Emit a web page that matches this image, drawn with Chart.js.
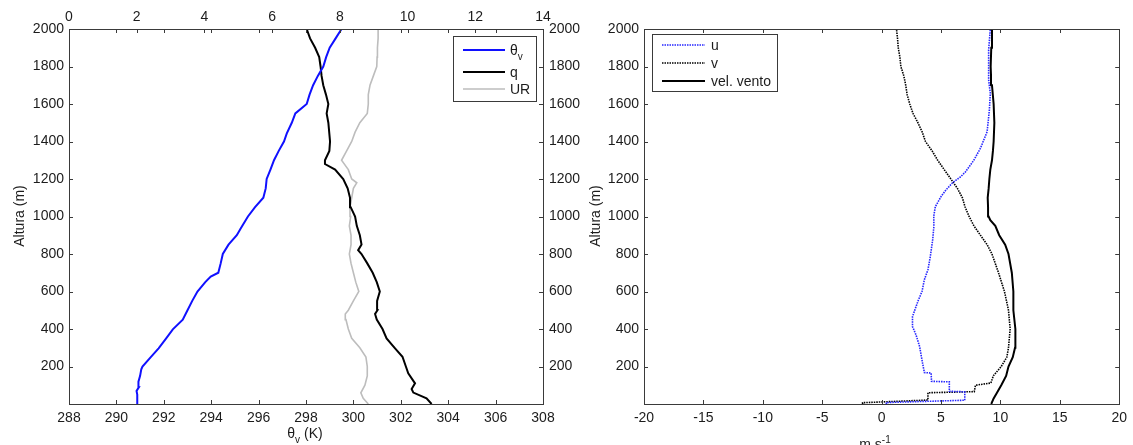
<!DOCTYPE html>
<html>
<head>
<meta charset="utf-8">
<script src="https://cdn.jsdelivr.net/npm/chart.js@4.4.1/dist/chart.umd.min.js"></script>
<style>
  html, body { margin: 0; padding: 0; background: #fff; }
  #wrap { position: relative; width: 1133px; height: 445px; overflow: hidden; }
  canvas { position: absolute; top: 0; }
  #cL { left: 0; }
  #cR { left: 575px; }
</style>
</head>
<body>
<div id="wrap">
  <canvas id="cL" width="600" height="445"></canvas>
  <canvas id="cR" width="558" height="445"></canvas>
</div>
<script>
// ---- Perfil termodinâmico (painel esquerdo) ----
const altThetaV = [0, 50, 70, 90, 119, 150, 185, 200, 250, 297, 350, 398, 450, 500, 550, 600, 650, 680, 700, 750, 800, 850, 900, 937, 1000, 1050, 1100, 1150, 1200, 1250, 1300, 1350, 1400, 1443, 1500, 1550, 1600, 1650, 1700, 1750, 1800, 1850, 1900, 1950, 2000];
const thetaV    = [290.91, 290.88, 290.85, 290.95, 290.93, 291.0, 291.05, 291.1, 291.45, 291.78, 292.1, 292.38, 292.8, 293.0, 293.2, 293.42, 293.75, 293.98, 294.3, 294.4, 294.49, 294.73, 295.08, 295.25, 295.55, 295.85, 296.2, 296.3, 296.34, 296.5, 296.65, 296.85, 297.07, 297.19, 297.4, 297.55, 298.03, 298.15, 298.3, 298.5, 298.73, 298.85, 299.0, 299.25, 299.5];

const altQ = [0, 30, 61, 80, 110, 164, 200, 252, 297, 350, 400, 450, 480, 500, 550, 600, 650, 700, 750, 800, 820, 850, 900, 950, 1000, 1050, 1100, 1150, 1200, 1250, 1280, 1300, 1350, 1400, 1500, 1550, 1600, 1650, 1700, 1750, 1800, 1850, 1900, 1950, 2000];
const q    = [10.71, 10.56, 10.17, 10.12, 10.22, 10.02, 9.95, 9.85, 9.63, 9.38, 9.26, 9.09, 9.04, 9.11, 9.1, 9.18, 9.09, 8.97, 8.81, 8.64, 8.54, 8.64, 8.59, 8.5, 8.45, 8.32, 8.3, 8.23, 8.1, 7.86, 7.56, 7.56, 7.69, 7.71, 7.66, 7.61, 7.66, 7.59, 7.51, 7.46, 7.43, 7.39, 7.27, 7.12, 7.02];

const altUR = [0, 30, 60, 100, 150, 200, 250, 300, 350, 400, 450, 480, 500, 550, 600, 650, 700, 750, 800, 850, 900, 950, 1000, 1050, 1100, 1150, 1180, 1200, 1250, 1300, 1350, 1400, 1450, 1500, 1550, 1600, 1650, 1700, 1750, 1800, 1850, 1900, 1950, 2000];
const ur    = [8.84, 8.69, 8.62, 8.74, 8.81, 8.81, 8.77, 8.59, 8.35, 8.25, 8.18, 8.16, 8.25, 8.4, 8.56, 8.47, 8.4, 8.33, 8.28, 8.33, 8.33, 8.28, 8.32, 8.3, 8.35, 8.4, 8.5, 8.35, 8.25, 8.05, 8.2, 8.35, 8.45, 8.59, 8.81, 8.84, 8.84, 8.89, 8.99, 9.09, 9.1, 9.11, 9.13, 9.13];

// ---- Perfil de vento (painel direito) ----
const altU = [0, 8, 20, 65, 68, 118, 121, 165, 168, 200, 235, 306, 368, 413, 466, 502, 555, 600, 663, 716, 787, 876, 947, 1002, 1052, 1106, 1141, 1180, 1212, 1239, 1301, 1364, 1408, 1452, 1500, 1568, 1657, 1728, 1800, 1888, 2000];
const u    = [0.4, 0.4, 7.0, 7.0, 5.7, 5.7, 4.2, 4.17, 3.6, 3.5, 3.4, 3.2, 2.9, 2.6, 2.6, 2.8, 3.1, 3.4, 3.6, 3.9, 4.1, 4.3, 4.4, 4.39, 4.52, 5.0, 5.41, 5.97, 6.66, 7.07, 7.77, 8.32, 8.6, 8.88, 8.96, 9.07, 9.15, 9.01, 9.01, 9.01, 9.15];

const altV = [0, 7, 21, 60, 66, 100, 112, 150, 200, 250, 300, 400, 500, 600, 700, 800, 850, 900, 950, 1002, 1052, 1100, 1150, 1200, 1250, 1300, 1350, 1400, 1450, 1500, 1550, 1600, 1650, 1700, 1750, 1800, 1850, 1900, 1950, 2000];
const v    = [-1.6, -1.6, 3.9, 3.9, 7.8, 7.9, 9.2, 9.4, 10.07, 10.54, 10.68, 10.82, 10.68, 10.34, 9.84, 9.29, 8.88, 8.32, 7.77, 7.35, 7.02, 6.8, 6.38, 5.83, 5.27, 4.72, 4.25, 3.69, 3.42, 3.06, 2.64, 2.37, 2.15, 2.03, 1.87, 1.62, 1.54, 1.4, 1.34, 1.25];

const altVel = [0, 30, 60, 100, 150, 200, 250, 300, 350, 400, 500, 600, 700, 800, 850, 900, 950, 980, 1000, 1050, 1100, 1150, 1200, 1250, 1300, 1350, 1400, 1500, 1600, 1700, 1750, 1800, 1900, 2000];
const vel    = [9.23, 9.43, 9.71, 10.07, 10.48, 10.68, 11.04, 11.23, 11.29, 11.23, 11.09, 11.09, 10.96, 10.68, 10.4, 9.9, 9.57, 9.15, 9.01, 8.96, 8.93, 9.01, 9.07, 9.15, 9.29, 9.37, 9.43, 9.49, 9.43, 9.29, 9.21, 9.18, 9.23, 9.29];

// ---- Eixos ----
const altRange = [0, 2000];      // altura (m)
const altStep = 200;
const thetaRange = [288, 308];   // θv (K)
const thetaStep = 2;
const qRange = [0, 14];          // q
const qStep = 2;
const windRange = [-20, 20];     // m.s-1
const windStep = 5;

const FONT = '"Liberation Sans", Arial, Helvetica, sans-serif';
const INK = '#1c1c1c';
const AXIS = '#3a3a3a';

Chart.defaults.font.family = FONT;
Chart.defaults.font.size = 14;
Chart.defaults.color = INK;

function profile(vals, alts) {
  return vals.map((x, i) => ({ x: x, y: alts[i] }));
}

// texto com _{sub} e ^{sup}
function richParts(str) {
  const parts = [];
  const re = /([_^])\{([^}]*)\}/g;
  let last = 0, m;
  while ((m = re.exec(str))) {
    if (m.index > last) parts.push({ t: str.slice(last, m.index), k: '' });
    parts.push({ t: m[2], k: m[1] });
    last = re.lastIndex;
  }
  if (last < str.length) parts.push({ t: str.slice(last), k: '' });
  return parts;
}
function drawRich(ctx, str, x, y, align) {
  const parts = richParts(str);
  let w = 0;
  parts.forEach(p => {
    ctx.font = (p.k ? '10px ' : '14px ') + FONT;
    p.w = ctx.measureText(p.t).width;
    w += p.w;
  });
  let cx = align === 'center' ? x - w / 2 : x;
  ctx.textAlign = 'left';
  ctx.textBaseline = 'alphabetic';
  parts.forEach(p => {
    ctx.font = (p.k ? '10px ' : '14px ') + FONT;
    const dy = p.k === '_' ? 5 : (p.k === '^' ? -6 : 0);
    ctx.fillText(p.t, cx, y + dy);
    cx += p.w;
  });
}

// caixa dos eixos + marcas internas
const boxTicks = {
  id: 'boxTicks',
  afterDatasetsDraw(chart, args, opts) {
    const { ctx, chartArea: a } = chart;
    const L = opts.len || 5;
    ctx.save();
    ctx.strokeStyle = AXIS;
    ctx.lineWidth = 1;
    ctx.beginPath();
    (opts.marks || []).forEach(mk => {
      const sc = chart.scales[mk.scale];
      sc.ticks.forEach(t => {
        const p = Math.round(sc.getPixelForValue(t.value)) + 0.5;
        mk.sides.forEach(side => {
          if (side === 'bottom') { ctx.moveTo(p, a.bottom); ctx.lineTo(p, a.bottom - L); }
          if (side === 'top') { ctx.moveTo(p, a.top); ctx.lineTo(p, a.top + L); }
          if (side === 'left') { ctx.moveTo(a.left, p); ctx.lineTo(a.left + L, p); }
          if (side === 'right') { ctx.moveTo(a.right, p); ctx.lineTo(a.right - L, p); }
        });
      });
    });
    ctx.stroke();
    ctx.strokeRect(Math.round(a.left) + 0.5, Math.round(a.top) + 0.5,
                   Math.round(a.right - a.left), Math.round(a.bottom - a.top));
    ctx.restore();
  }
};

// legenda em caixa
const boxLegend = {
  id: 'boxLegend',
  afterDraw(chart, args, o) {
    if (!o || !o.box) return;
    const { ctx } = chart;
    ctx.save();
    ctx.fillStyle = '#fff';
    ctx.fillRect(o.box[0], o.box[1], o.box[2], o.box[3]);
    ctx.strokeStyle = AXIS;
    ctx.lineWidth = 1;
    ctx.strokeRect(o.box[0] + 0.5, o.box[1] + 0.5, o.box[2], o.box[3]);
    chart.data.datasets.forEach((ds, i) => {
      const y = o.rows[i];
      ctx.strokeStyle = ds.borderColor;
      ctx.lineWidth = ds.borderWidth;
      ctx.setLineDash(ds.borderDash || []);
      ctx.beginPath();
      ctx.moveTo(o.line[0], y);
      ctx.lineTo(o.line[1], y);
      ctx.stroke();
      ctx.setLineDash([]);
      ctx.fillStyle = INK;
      drawRich(ctx, ds.label, o.textX, y + 5, 'left');
    });
    ctx.restore();
  }
};

// títulos dos eixos
const axisText = {
  id: 'axisText',
  afterDraw(chart, args, o) {
    const { ctx } = chart;
    ctx.save();
    ctx.fillStyle = INK;
    (o.items || []).forEach(it => {
      if (it.rotate) {
        ctx.translate(it.x, it.y);
        ctx.rotate(-Math.PI / 2);
        ctx.font = '14px ' + FONT;
        ctx.textAlign = 'center';
        ctx.textBaseline = 'middle';
        ctx.fillText(it.text, 0, 0);
        ctx.setTransform(1, 0, 0, 1, 0, 0);
      } else {
        drawRich(ctx, it.text, it.x, it.y, it.align || 'center');
      }
    });
    ctx.restore();
  }
};

function fixed(w, h) {
  return (sc) => { if (w != null) sc.width = w; if (h != null) sc.height = h; };
}
function plainScale(extra) {
  return Object.assign({
    type: 'linear',
    grid: { display: false, drawTicks: false },
    border: { display: false },
  }, extra);
}
const altTicks = (val) => (val === 0 ? '' : String(val));

// ---- painel esquerdo ----
new Chart(document.getElementById('cL'), {
  type: 'scatter',
  data: {
    datasets: [
      { label: 'θ_{v}', data: profile(thetaV, altThetaV), xAxisID: 'x', yAxisID: 'y',
        borderColor: '#1010ff', borderWidth: 2 },
      { label: 'q', data: profile(q, altQ), xAxisID: 'x2', yAxisID: 'y',
        borderColor: '#000000', borderWidth: 2 },
      { label: 'UR', data: profile(ur, altUR), xAxisID: 'x2', yAxisID: 'y',
        borderColor: '#bdbdbd', borderWidth: 1.6 },
    ]
  },
  options: {
    responsive: false,
    animation: false,
    devicePixelRatio: 1,
    showLine: true,
    elements: { point: { radius: 0, hoverRadius: 0 }, line: { tension: 0, fill: false } },
    layout: { padding: 0 },
    scales: {
      x: plainScale({ position: 'bottom', min: thetaRange[0], max: thetaRange[1],
        ticks: { stepSize: thetaStep, padding: 6, maxRotation: 0 }, afterFit: fixed(null, 41) }),
      x2: plainScale({ position: 'top', min: qRange[0], max: qRange[1],
        ticks: { stepSize: qStep, padding: 3, maxRotation: 0 }, afterFit: fixed(null, 29) }),
      y: plainScale({ position: 'left', min: altRange[0], max: altRange[1],
        ticks: { stepSize: altStep, padding: 5, callback: altTicks }, afterFit: fixed(69, null) }),
      y2: plainScale({ position: 'right', min: altRange[0], max: altRange[1],
        ticks: { stepSize: altStep, padding: 6, callback: altTicks }, afterFit: fixed(57, null) }),
    },
    plugins: {
      legend: { display: false },
      tooltip: { enabled: false },
      boxTicks: { len: 4, marks: [
        { scale: 'x', sides: ['bottom', 'top'] },
        { scale: 'x2', sides: ['top'] },
        { scale: 'y', sides: ['left', 'right'] },
      ] },
      boxLegend: { box: [453, 36, 83, 65], line: [463, 505], textX: 510, rows: [50, 72, 89] },
      axisText: { items: [
        { text: 'Altura (m)', x: 20, y: 216, rotate: true },
        { text: 'θ_{v} (K)', x: 305, y: 438 },
      ] },
    }
  },
  plugins: [boxTicks, boxLegend, axisText]
});

// ---- painel direito ----
new Chart(document.getElementById('cR'), {
  type: 'scatter',
  data: {
    datasets: [
      { label: 'u', data: profile(u, altU), borderColor: '#2626ff', borderWidth: 1.6, borderDash: [1.5, 1] },
      { label: 'v', data: profile(v, altV), borderColor: '#000000', borderWidth: 1.6, borderDash: [1.5, 1] },
      { label: 'vel. vento', data: profile(vel, altVel), borderColor: '#000000', borderWidth: 2 },
    ]
  },
  options: {
    responsive: false,
    animation: false,
    devicePixelRatio: 1,
    showLine: true,
    elements: { point: { radius: 0, hoverRadius: 0 }, line: { tension: 0, fill: false } },
    layout: { padding: { top: 29, right: 8, left: 0, bottom: 0 } },
    scales: {
      x: plainScale({ position: 'bottom', min: windRange[0], max: windRange[1],
        ticks: { stepSize: windStep, padding: 6, maxRotation: 0 }, afterFit: fixed(null, 41) }),
      y: plainScale({ position: 'left', min: altRange[0], max: altRange[1],
        ticks: { stepSize: altStep, padding: 5, callback: altTicks }, afterFit: fixed(69, null) }),
    },
    plugins: {
      legend: { display: false },
      tooltip: { enabled: false },
      boxTicks: { len: 4, marks: [
        { scale: 'x', sides: ['bottom', 'top'] },
        { scale: 'y', sides: ['left', 'right'] },
      ] },
      boxLegend: { box: [77, 34, 125, 57], line: [87, 130], textX: 136, rows: [45, 63, 81] },
      axisText: { items: [
        { text: 'Altura (m)', x: 21, y: 216, rotate: true },
        { text: 'm.s^{-1}', x: 300, y: 449 },
      ] },
    }
  },
  plugins: [boxTicks, boxLegend, axisText]
});
</script>
</body>
</html>
